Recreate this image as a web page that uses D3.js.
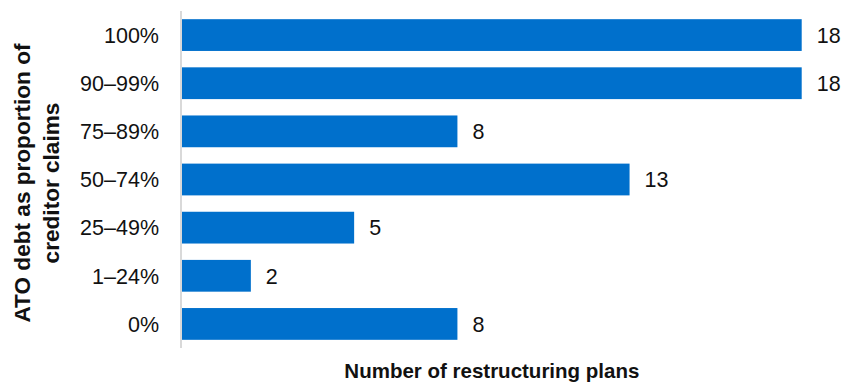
<!DOCTYPE html>
<html>
<head>
<meta charset="utf-8">
<script src="https://cdn.jsdelivr.net/npm/d3@7"></script>
<style>
  html, body { margin: 0; padding: 0; background: #ffffff; }
  svg { display: block; font-family: "Liberation Sans", Arial, sans-serif; }
</style>
</head>
<body>
<svg id="chart" width="846" height="383"></svg>
<script>
// Share of creditor claims held by the ATO, by band
const categories = ["100%", "90–99%", "75–89%", "50–74%", "25–49%", "1–24%", "0%"];
// Number of restructuring plans in each band
const plans = [18, 18, 8, 13, 5, 2, 8];

const xTitle = "Number of restructuring plans";
const yTitleLines = ["ATO debt as proportion of", "creditor claims"];

const svg = d3.select("#chart");

const x = d3.scaleLinear().domain([0, 18]).range([182, 801.7]);
const y = d3.scaleBand()
  .domain(categories)
  .range([11, 348])
  .paddingInner(0.34)
  .paddingOuter(0.17);

// Bars
svg.append("g")
  .selectAll("rect")
  .data(categories)
  .join("rect")
  .attr("x", x(0))
  .attr("y", d => y(d))
  .attr("width", (d, i) => x(plans[i]) - x(0))
  .attr("height", y.bandwidth())
  .attr("fill", "#0070cc");

// Vertical axis line
svg.append("line")
  .attr("x1", 181).attr("x2", 181)
  .attr("y1", y.range()[0]).attr("y2", y.range()[1])
  .attr("stroke", "#d9d9d9")
  .attr("stroke-width", 2);

// Category labels
svg.append("g")
  .selectAll("text")
  .data(categories)
  .join("text")
  .attr("x", 159)
  .attr("y", d => y(d) + y.bandwidth() / 2)
  .attr("dy", "0.36em")
  .attr("text-anchor", "end")
  .attr("font-size", 21.5)
  .attr("fill", "#111")
  .text(d => d);

// Value labels
svg.append("g")
  .selectAll("text")
  .data(categories)
  .join("text")
  .attr("x", (d, i) => x(plans[i]) + 15)
  .attr("y", d => y(d) + y.bandwidth() / 2)
  .attr("dy", "0.36em")
  .attr("font-size", 21.5)
  .attr("fill", "#111")
  .text((d, i) => plans[i]);

// X axis title
svg.append("text")
  .attr("x", (x.range()[0] + x.range()[1]) / 2)
  .attr("y", 378)
  .attr("text-anchor", "middle")
  .attr("font-size", 20.5)
  .attr("font-weight", "bold")
  .attr("fill", "#111")
  .text(xTitle);

// Y axis title (two rotated lines)
const yt = svg.append("text")
  .attr("transform", "translate(29.5,183) rotate(-90)")
  .attr("text-anchor", "middle")
  .attr("font-size", 22.6)
  .attr("font-weight", "bold")
  .attr("fill", "#111");
yTitleLines.forEach((line, i) => {
  yt.append("tspan")
    .attr("x", 0)
    .attr("y", i * 29)
    .text(line);
});
</script>
</body>
</html>
